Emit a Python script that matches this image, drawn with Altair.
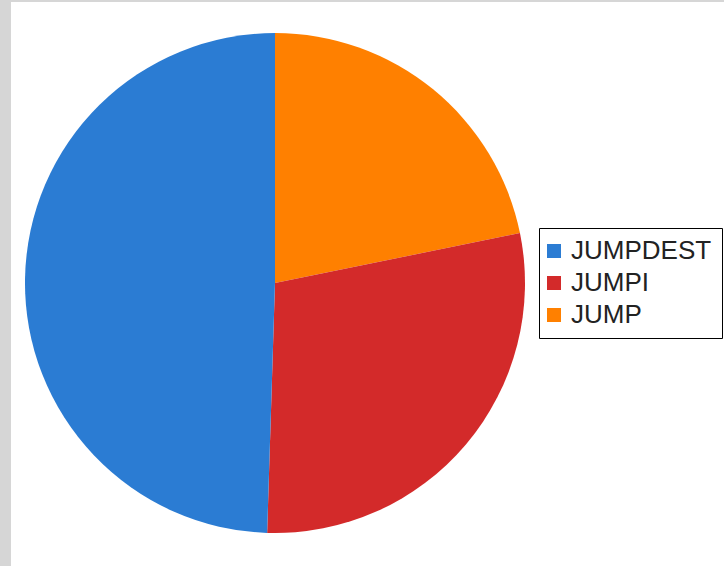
import altair as alt
import pandas as pd

categories = ["JUMP", "JUMPI", "JUMPDEST"]
shares = [21.8, 28.7, 49.5]
legend_order = ["JUMPDEST", "JUMPI", "JUMP"]
colors = ["#2b7cd3", "#d32a2a", "#ff8000"]

df = pd.DataFrame({"op": categories, "share": shares, "rank": list(range(len(categories)))})

chart = alt.Chart(df).mark_arc(outerRadius=250).encode(
    theta=alt.Theta("share:Q", stack=True),
    order=alt.Order("rank:Q"),
    x=alt.value(264),
    y=alt.value(281),
    color=alt.Color(
        "op:N",
        scale=alt.Scale(domain=legend_order, range=colors),
        legend=alt.Legend(
            title=None,
            orient="none",
            legendX=528,
            legendY=226,
            symbolType="square",
            symbolSize=196,
            symbolStrokeWidth=0,
            symbolOffset=-8,
            labelFont="Liberation Sans",
            labelFontSize=26,
            labelColor="#222222",
            labelOffset=4,
            rowPadding=6,
            padding=10,
            strokeColor="#000000",
            fillColor="#ffffff",
        ),
    ),
).properties(
    width=713,
    height=564,
    background="#d6d6d6",
    padding={"left": 11, "top": 2, "right": 0, "bottom": 0},
    autosize=alt.AutoSizeParams(type="none"),
).configure_view(fill="#ffffff", stroke=None)

chart.save("out.html", embed_options={"renderer": "svg", "actions": False})
